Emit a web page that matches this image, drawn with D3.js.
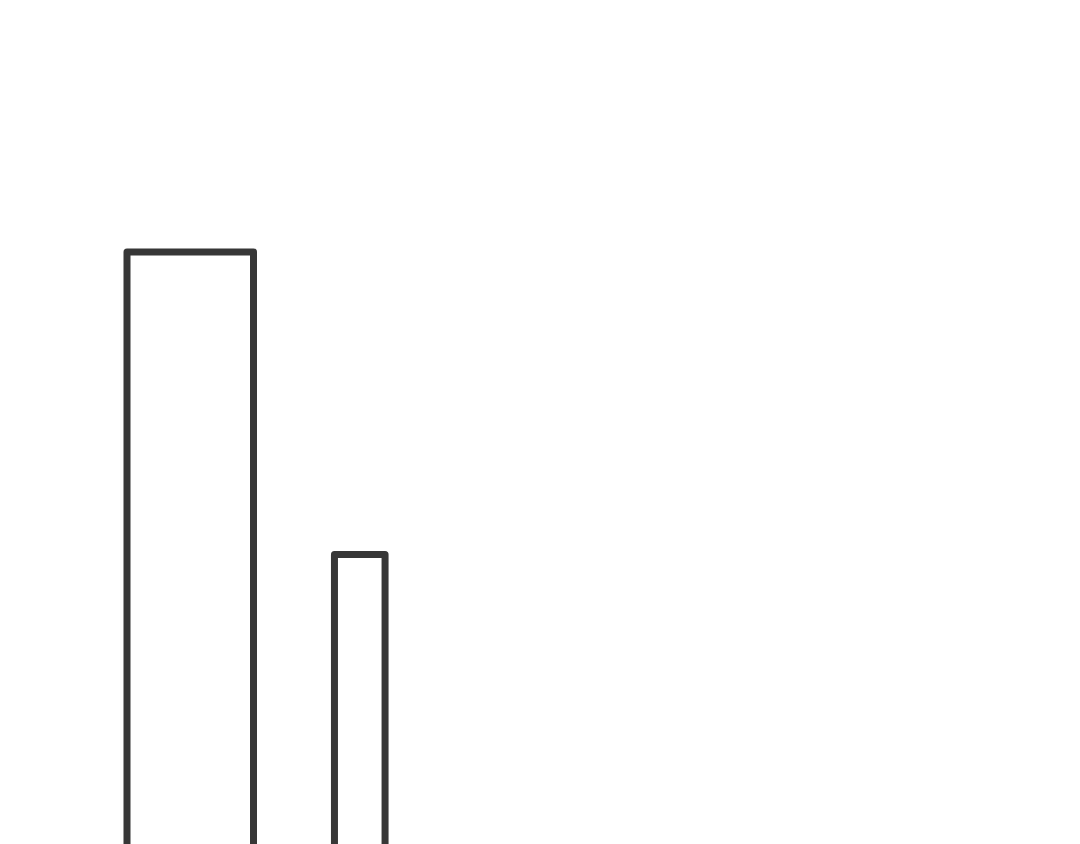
<!DOCTYPE html>
<html>
<head>
<meta charset="utf-8">
<script src="https://cdn.jsdelivr.net/npm/d3@7"></script>
<style>
  html, body { margin: 0; padding: 0; background: #ffffff; }
  svg { display: block; }
</style>
</head>
<body>
<svg id="chart" width="1080" height="844"></svg>
<script>
// Data: bins (start, end) and their values
const binStarts = [0, 8.2];
const binEnds = [5, 10.2];
const values = [81, 43.2];

const svg = d3.select("#chart");
const x = d3.scaleLinear().domain([0, 10]).range([127, 380]);
const y = d3.scaleLinear().domain([0, 100]).range([900, 100]);

const bars = values.map((v, i) => ({ x0: binStarts[i], x1: binEnds[i], v }));

svg.selectAll("path.bar")
  .data(bars)
  .join("path")
  .attr("class", "bar")
  .attr("d", d => {
    const p = d3.path();
    p.moveTo(x(d.x0), y(0));
    p.lineTo(x(d.x0), y(d.v));
    p.lineTo(x(d.x1), y(d.v));
    p.lineTo(x(d.x1), y(0));
    return p.toString();
  })
  .attr("fill", "none")
  .attr("stroke", "#373737")
  .attr("stroke-width", 7)
  .attr("stroke-linejoin", "round")
  .attr("stroke-linecap", "round");
</script>
</body>
</html>
